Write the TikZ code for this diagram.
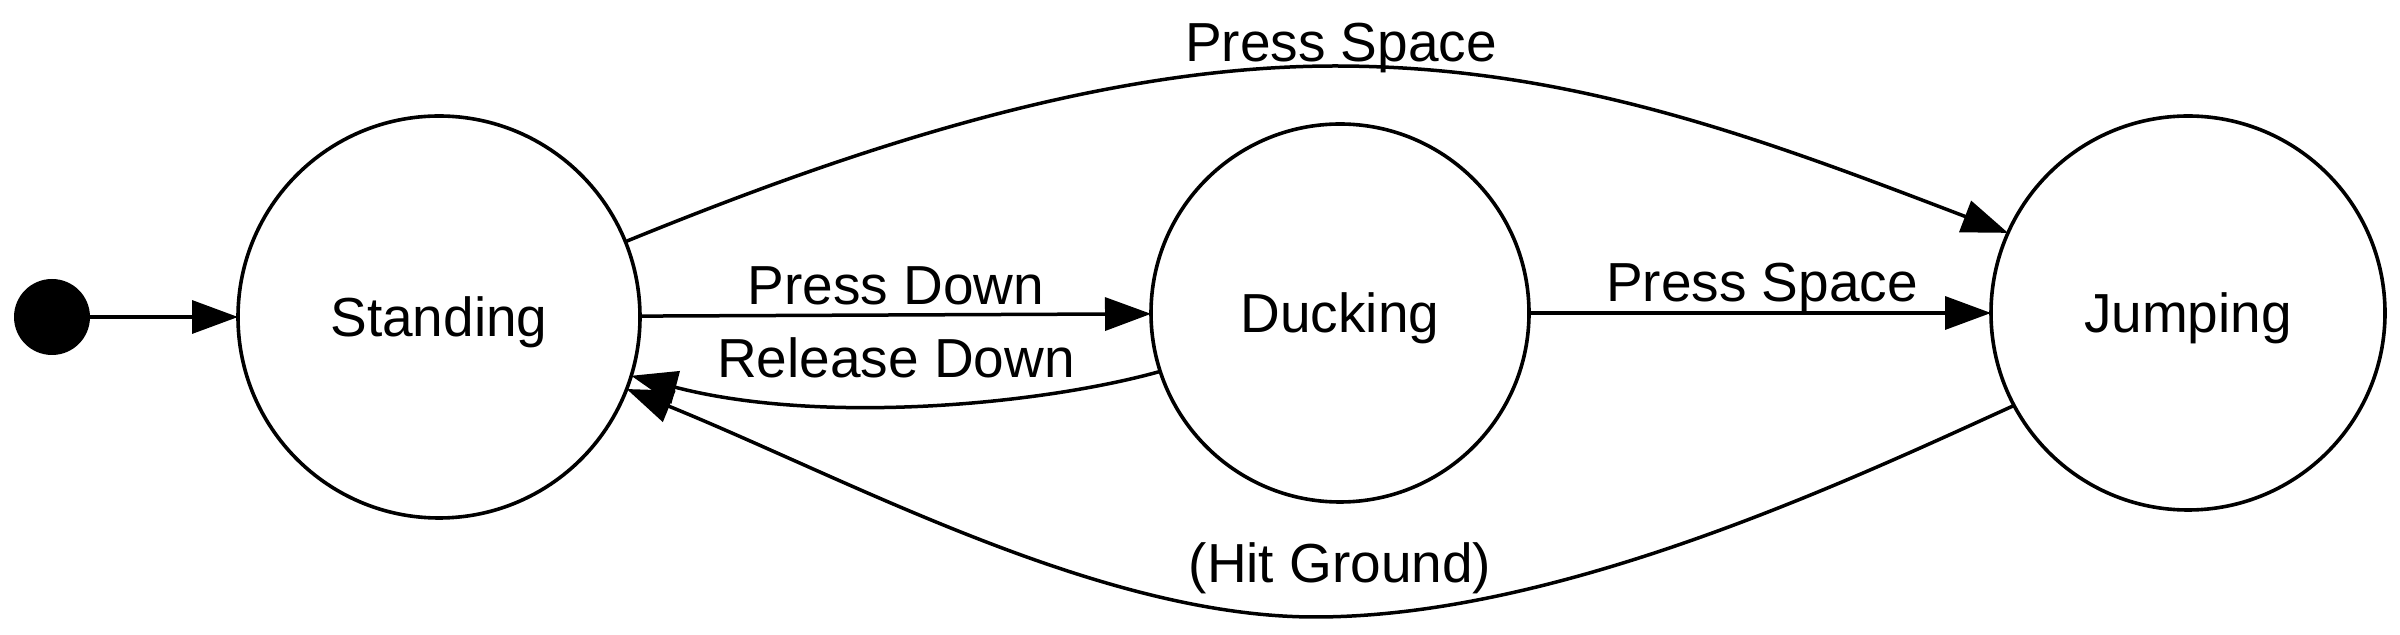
\documentclass[tikz,border=0pt]{standalone}
\usepackage{fontspec}
\setmainfont{Liberation Sans}
\usetikzlibrary{arrows.meta}
\begin{document}
\begin{tikzpicture}[x=0.5pt,y=-0.5pt,
  state/.style={circle,draw,line width=1.8pt,inner sep=0pt,outer sep=0pt,
    font=\fontsize{27.5pt}{33pt}\selectfont,text height=19.7pt,text depth=0pt},
  lbl/.style={anchor=base,inner sep=0pt,font=\fontsize{27.5pt}{33pt}\selectfont},
  edge/.style={line width=1.75pt,-{Triangle[length=23pt,width=16.5pt]}}]
\useasboundingbox (0,0) rectangle (2400,635);
\node[circle,fill,minimum size=38pt,inner sep=0pt,outer sep=0pt] (init) at (52,317) {};
\node[state,minimum size=201pt] (S) at (439,317) {Standing};
\node[state,minimum size=189pt] (D) at (1340,313) {Ducking};
\node[state,minimum size=197pt] (J) at (2188,313) {Jumping};
\draw[edge] (init) -- (S);
\draw[edge] (S) -- (D);
\draw[edge] (D) -- (J);
\draw[edge] (S.22.5) .. controls (850,150) and (1100,66) .. (1335,66)
  .. controls (1570,66) and (1760,138) .. (J.156);
\draw[edge] (J.208.5) .. controls (1850,480) and (1560,617) .. (1315,617)
  .. controls (1100,617) and (850,480) .. (S.339);
\draw[edge] (D.198.4) .. controls (1040,405) and (820,425) .. (S.343);
\node[lbl] (l1) at (1341,62) {Press Space};
\node[lbl] (l2) at (896,305) {Press Down};
\node[lbl] (l3) at (896,378) {Release Down};
\node[lbl] (l4) at (1762,302) {Press Space};
\node[lbl] (l5) at (1340,583) {(Hit Ground)};
\end{tikzpicture}
\end{document}
